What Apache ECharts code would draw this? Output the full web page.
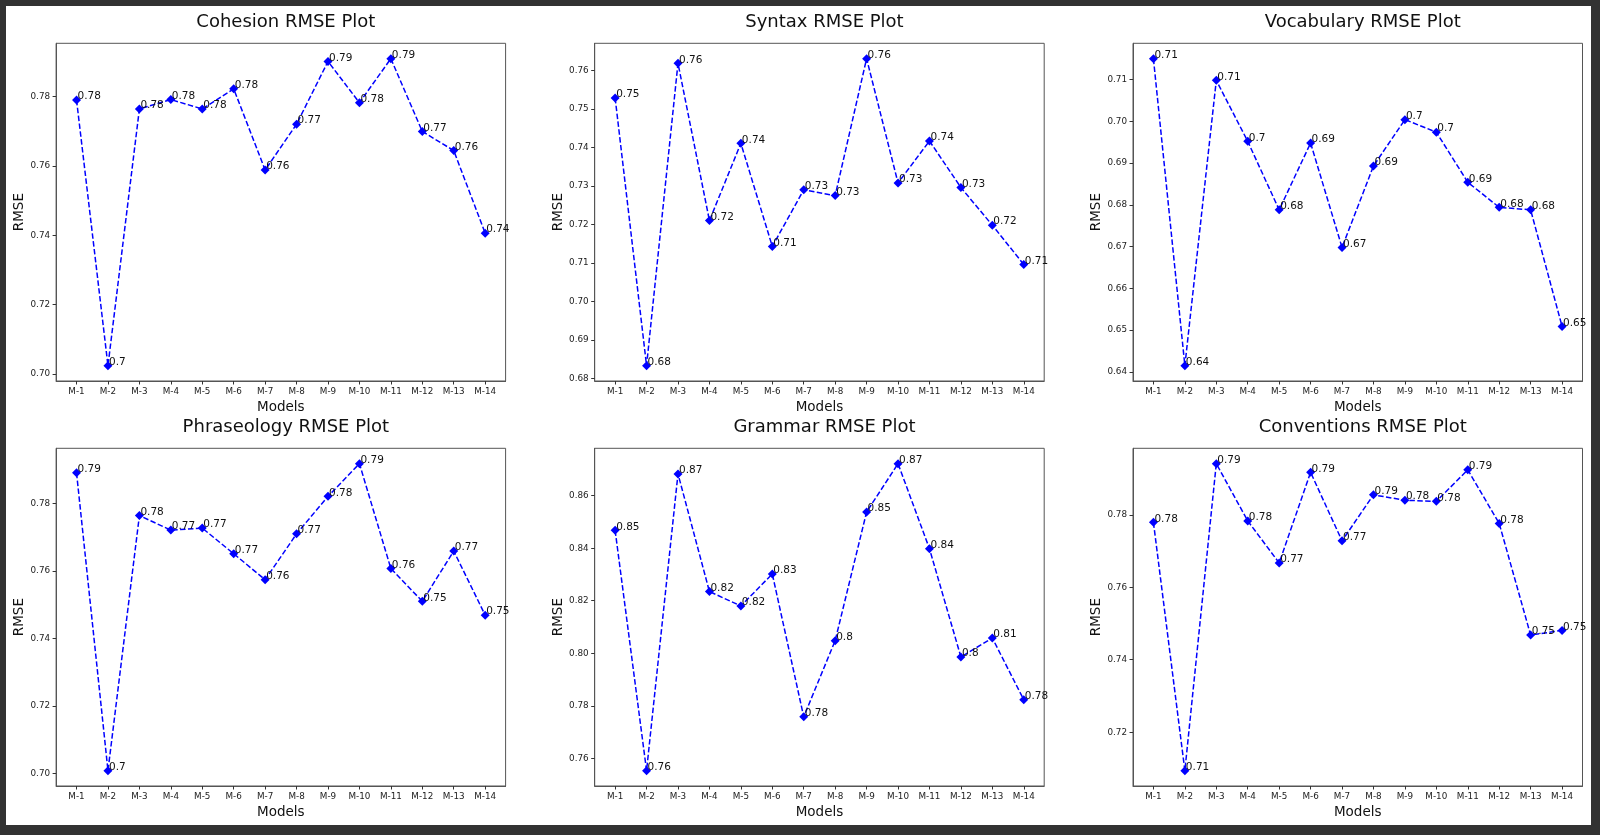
<!DOCTYPE html>
<html>
<head>
<meta charset="utf-8">
<script src="https://cdn.jsdelivr.net/npm/echarts@6/dist/echarts.min.js"></script>
<style>
  html, body { margin: 0; padding: 0; background: #323232; }
  #chart { width: 1600px; height: 835px; }
</style>
</head>
<body>
<div id="chart"></div>
<script>
// ---- Data ----
const models = ['M-1','M-2','M-3','M-4','M-5','M-6','M-7','M-8','M-9','M-10','M-11','M-12','M-13','M-14'];

const cohesion    = [0.7790, 0.7024, 0.7764, 0.7791, 0.7764, 0.7822, 0.7588, 0.7720, 0.7901, 0.7782, 0.7909, 0.7699, 0.7644, 0.7406];
const syntax      = [0.7529, 0.6833, 0.7619, 0.7210, 0.7411, 0.7143, 0.7290, 0.7275, 0.7631, 0.7308, 0.7417, 0.7296, 0.7198, 0.7096];
const vocabulary  = [0.7150, 0.6415, 0.7098, 0.6952, 0.6788, 0.6948, 0.6698, 0.6893, 0.7004, 0.6974, 0.6854, 0.6794, 0.6788, 0.6509];
const phraseology = [0.7891, 0.7008, 0.7764, 0.7721, 0.7727, 0.7651, 0.7574, 0.7710, 0.7821, 0.7918, 0.7607, 0.7510, 0.7659, 0.7469];
const grammar     = [0.8468, 0.7553, 0.8683, 0.8235, 0.8180, 0.8302, 0.7758, 0.8048, 0.8538, 0.8722, 0.8398, 0.7986, 0.8058, 0.7823];
const conventions = [0.7779, 0.7094, 0.7941, 0.7783, 0.7667, 0.7917, 0.7728, 0.7855, 0.7840, 0.7837, 0.7924, 0.7776, 0.7468, 0.7481];

const cohesionTicks    = [0.70, 0.72, 0.74, 0.76, 0.78];
const syntaxTicks      = [0.68, 0.69, 0.70, 0.71, 0.72, 0.73, 0.74, 0.75, 0.76];
const vocabularyTicks  = [0.64, 0.65, 0.66, 0.67, 0.68, 0.69, 0.70, 0.71];
const phraseologyTicks = [0.70, 0.72, 0.74, 0.76, 0.78];
const grammarTicks     = [0.76, 0.78, 0.80, 0.82, 0.84, 0.86];
const conventionsTicks = [0.72, 0.74, 0.76, 0.78];

const titles = ['Cohesion RMSE Plot','Syntax RMSE Plot','Vocabulary RMSE Plot','Phraseology RMSE Plot','Grammar RMSE Plot','Conventions RMSE Plot'];

// ---- Layout ----
const panels = [
  { title: titles[0], values: cohesion,    ticks: cohesionTicks },
  { title: titles[1], values: syntax,      ticks: syntaxTicks },
  { title: titles[2], values: vocabulary,  ticks: vocabularyTicks },
  { title: titles[3], values: phraseology, ticks: phraseologyTicks },
  { title: titles[4], values: grammar,     ticks: grammarTicks },
  { title: titles[5], values: conventions, ticks: conventionsTicks }
];
const colLeft = [56.1, 594.7, 1133];
const rowTop = [43.3, 448.3];
const gridW = 449.5, gridH = 337.7;
const FONT = 'DejaVu Sans';
const spine = '#555555';

const grid = [], xAxis = [], yAxis = [], series = [], title = [];
panels.forEach((p, i) => {
  const c = i % 3, r = Math.floor(i / 3);
  const left = colLeft[c], top = rowTop[r];
  grid.push({ left: left, top: top, width: gridW, height: gridH, show: true,
    borderColor: spine, borderWidth: 1, backgroundColor: '#fff' });
  title.push({ text: p.title, left: left + gridW / 2, top: top - 35, textAlign: 'center',
    textStyle: { fontFamily: FONT, fontSize: 18, fontWeight: 'normal', color: '#111' } });
  const mn = Math.min(...p.values), mx = Math.max(...p.values), rg = mx - mn;
  xAxis.push({ type: 'value', gridIndex: i, min: -0.65, max: 13.65,
    name: 'Models', nameLocation: 'middle', nameGap: 19,
    nameTextStyle: { fontFamily: FONT, fontSize: 13.5, color: '#111' },
    splitLine: { show: false },
    axisLine: { show: true, onZero: false, lineStyle: { color: spine, width: 1 } },
    axisTick: { show: true, length: 3.5, customValues: models.map((m, k) => k), lineStyle: { color: '#333' } },
    axisLabel: { customValues: models.map((m, k) => k), margin: 6, fontFamily: FONT, fontSize: 8.8, color: '#222',
      formatter: v => models[Math.round(v)] } });
  yAxis.push({ type: 'value', gridIndex: i, min: mn - 0.05 * rg, max: mx + 0.05 * rg,
    name: 'RMSE', nameLocation: 'middle', nameGap: 29,
    nameTextStyle: { fontFamily: FONT, fontSize: 13.5, color: '#111' },
    splitLine: { show: false },
    axisLine: { show: true, onZero: false, lineStyle: { color: spine, width: 1 } },
    axisTick: { show: true, length: 3.5, customValues: p.ticks, lineStyle: { color: '#333' } },
    axisLabel: { customValues: p.ticks, margin: 6, fontFamily: FONT, fontSize: 8.8, color: '#222',
      formatter: v => v.toFixed(2) } });
  series.push({ type: 'line', xAxisIndex: i, yAxisIndex: i,
    data: p.values.map((v, k) => [k, v]),
    symbol: 'diamond', symbolSize: 9,
    itemStyle: { color: '#0000ff' },
    lineStyle: { color: '#0000ff', width: 1.5, type: [5.5, 2.4] },
    label: { show: true, position: ['50%', '50%'], offset: [1, 2], align: 'left', verticalAlign: 'bottom',
      fontFamily: FONT, fontSize: 10.5, color: '#111',
      formatter: prm => String(Number(prm.value[1].toFixed(2))) },
    animation: false });
});

const chart = echarts.init(document.getElementById('chart'), null, { renderer: 'canvas' });
chart.setOption({
  backgroundColor: '#323232',
  animation: false,
  graphic: [{ type: 'rect', z: -10, silent: true, shape: { x: 6, y: 6, width: 1585, height: 819 }, style: { fill: '#ffffff' } }],
  title, grid, xAxis, yAxis, series
});
</script>
</body>
</html>
